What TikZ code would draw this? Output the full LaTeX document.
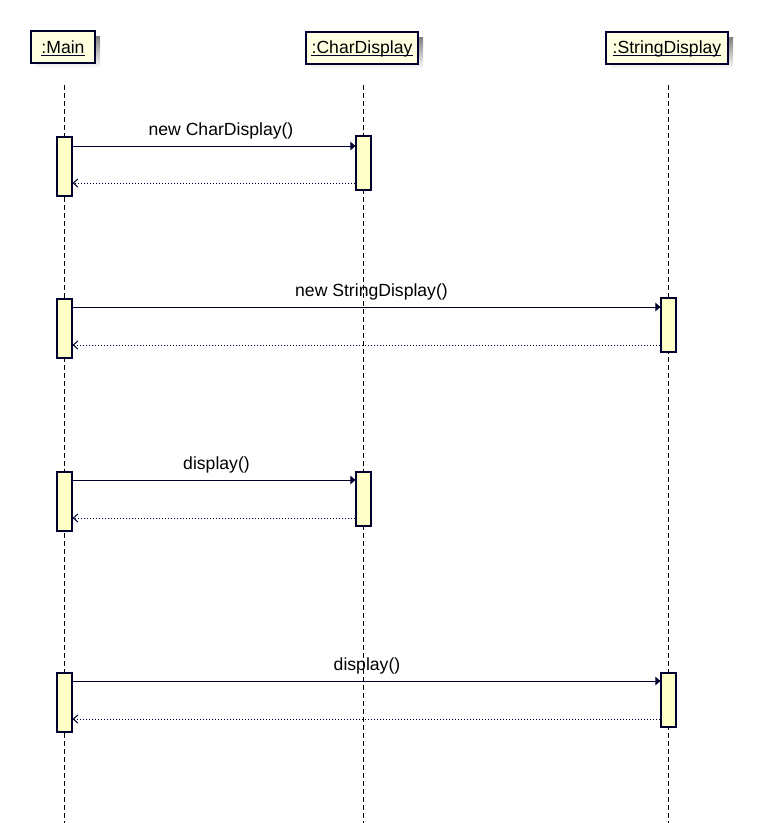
\documentclass[tikz,border=0pt]{standalone}
\usepackage{fontspec}
\setmainfont{Liberation Sans}
\usetikzlibrary{arrows.meta,calc}
\definecolor{headfill}{HTML}{FFFFE2}
\definecolor{actfill}{HTML}{FFFFC8}
\definecolor{ink}{HTML}{00002E}
\definecolor{shade}{HTML}{7F7F7F}
\begin{document}
\begin{tikzpicture}[x=1pt,y=-1pt,
  font=\fontsize{17.6}{20}\selectfont,
  objbox/.style={draw=ink, fill=headfill, line width=1.2pt, minimum height=32pt, inner sep=0pt},
  objname/.style={anchor=base, inner sep=0pt, text=black},
  undl/.style={draw=ink, line width=1pt},
  lifeline/.style={draw=black, line width=1pt, dash pattern=on 5pt off 3pt},
  act/.style={draw=ink, fill=actfill, line width=1.2pt, minimum width=15pt, inner sep=0pt},
  call/.style={draw=ink, line width=1pt, -{Triangle[length=5pt,width=8.5pt]}},
  reply/.style={draw=ink, line width=1pt, dash pattern=on 1pt off 2pt, -{Straight Barb[length=4.5pt,width=8pt]}},
  msg/.style={anchor=base, inner sep=0pt, text=black}]

\useasboundingbox (0,0) rectangle (757,823);

% object heads with drop shadows
\fill[shade] (36,36) rectangle (100,68);
\node[objbox, minimum width=64pt] (mainbox) at (63,47) {};
\node[objname] (maintext) at (63,53.5) {:Main};
\draw[undl] ([yshift=-2.3pt]maintext.base west) -- ([yshift=-2.3pt]maintext.base east);

\fill[shade] (311,37) rectangle (423,69);
\node[objbox, minimum width=112pt] (charbox) at (362,48) {};
\node[objname] (chartext) at (362,53.5) {:CharDisplay};
\draw[undl] ([yshift=-2.3pt]chartext.base west) -- ([yshift=-2.3pt]chartext.base east);

\fill[shade] (611,37) rectangle (733,69);
\node[objbox, minimum width=122pt] (strbox) at (667,48) {};
\node[objname] (strtext) at (667,53.5) {:StringDisplay};
\draw[undl] ([yshift=-2.3pt]strtext.base west) -- ([yshift=-2.3pt]strtext.base east);

% lifelines
\coordinate (mainTop) at (64.5,85);
\coordinate (mainBot) at (64.5,823);
\coordinate (charTop) at (363.5,85);
\coordinate (charBot) at (363.5,823);
\coordinate (strTop) at (668.5,85);
\coordinate (strBot) at (668.5,823);
\draw[lifeline] (mainTop) -- (mainBot);
\draw[lifeline] (charTop) -- (charBot);
\draw[lifeline] (strTop) -- (strBot);

% activation bars
\node[act, minimum height=59pt] (m1) at (64.5,166.5) {};
\node[act, minimum height=54pt] (c1) at (363.5,163) {};
\node[act, minimum height=59pt] (m2) at (64.5,328.5) {};
\node[act, minimum height=54pt] (s2) at (668.5,325) {};
\node[act, minimum height=59pt] (m3) at (64.5,501.5) {};
\node[act, minimum height=54pt] (c3) at (363.5,499) {};
\node[act, minimum height=59pt] (m4) at (64.5,702.5) {};
\node[act, minimum height=54pt] (s4) at (668.5,700) {};

% calls
\coordinate (a1) at (m1.east |- 0,146);
\draw[call] (a1) -- (a1 -| c1.west);
\coordinate (a2) at (m2.east |- 0,307);
\draw[call] (a2) -- (a2 -| s2.west);
\coordinate (a3) at (m3.east |- 0,480);
\draw[call] (a3) -- (a3 -| c3.west);
\coordinate (a4) at (m4.east |- 0,681);
\draw[call] (a4) -- (a4 -| s4.west);

% replies
\coordinate (r1) at (c1.west |- 0,183);
\draw[reply] (r1) -- (r1 -| m1.east);
\coordinate (r2) at (s2.west |- 0,345);
\draw[reply] (r2) -- (r2 -| m2.east);
\coordinate (r3) at (c3.west |- 0,518);
\draw[reply] (r3) -- (r3 -| m3.east);
\coordinate (r4) at (s4.west |- 0,719);
\draw[reply] (r4) -- (r4 -| m4.east);

% message labels
\node[msg] (l1) at (221,135) {new CharDisplay()};
\node[msg] (l2) at (371.5,296) {new StringDisplay()};
\node[msg] (l3) at (216.5,469) {display()};
\node[msg] (l4) at (367,670) {display()};
\end{tikzpicture}
\end{document}
